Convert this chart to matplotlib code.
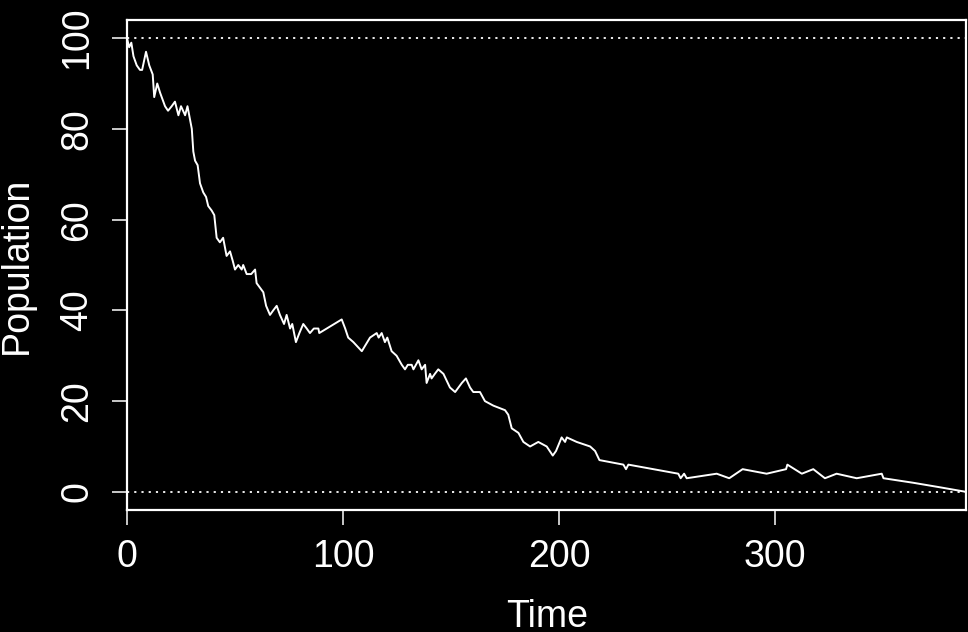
import matplotlib
matplotlib.use('Agg')
import matplotlib.pyplot as plt

# population trajectory
time = [0, 1, 2, 3, 4.5, 6, 7, 8.8, 10.3, 11.9, 12.6, 14, 15.3, 17.6, 19, 20.7,
        22.2, 23.8, 25, 26.9, 28, 28.8, 30, 30.7, 31.5, 32.7, 33.8, 35.3, 36.6,
        37.6, 39.2, 40.4, 41.5, 43, 44.5, 46.1, 47.7, 48.9, 50, 51.5, 53.1, 53.8,
        55.4, 57.5, 59.3, 60, 63.1, 64.4, 66.2, 67.7, 69.3, 70.8, 72.7, 73.9,
        75.5, 76.5, 78.2, 79.8, 81.6, 83.2, 84.7, 86.5, 88.6, 89, 99.4, 101,
        102.4, 104.8, 108.7, 112.5, 115.6, 116.5, 117.9, 119.4, 120.5, 122.5,
        124.8, 127.2, 128.7, 130, 131.8, 132.6, 134.9, 136.4, 138, 138.7, 140.3,
        141, 142.5, 144.1, 146.5, 149.5, 151.9, 155, 156.9, 158.8, 160.3, 163.4,
        165.7, 169.6, 175, 176.5, 178.1, 181.2, 183.5, 186.6, 190.4, 194.3,
        197.1, 198.6, 201.2, 202.8, 203.6, 208.2, 214.4, 216.7, 218.7, 229.8,
        231, 232.1, 255.2, 256.3, 257.9, 259.1, 273, 278.8, 285, 296.1, 305.1,
        305.7, 312.4, 317.7, 323.1, 328.5, 337.8, 349.4, 350.2, 364, 376.4, 388.4]
population = [100, 98, 99, 96, 94, 93, 93, 97, 94, 92, 87, 90, 88, 85, 84, 85,
              86, 83, 85, 83, 85, 83, 80, 75, 73, 72, 68, 66, 65,
              63, 62, 61, 56, 55, 56, 52, 53, 51, 49, 50, 49, 50,
              48, 48, 49, 46, 44, 41, 39, 40, 41, 39, 37, 39,
              36, 37, 33, 35, 37, 36, 35, 36, 36, 35, 38, 36,
              34, 33, 31, 34, 35, 34, 35, 33, 34, 31,
              30, 28, 27, 28, 28, 27, 29, 27, 28, 24, 26,
              25, 26, 27, 26, 23, 22, 24, 25, 23, 22, 22,
              20, 19, 18, 17, 14, 13, 11, 10, 11, 10,
              8, 9, 12, 11, 12, 11, 10, 9, 7, 6,
              5, 6, 4, 3, 4, 3, 4, 3, 5, 4, 5,
              6, 4, 5, 3, 4, 3, 4, 3, 2, 1, 0]
y_ticks = [0, 20, 40, 60, 80, 100]
x_ticks = [0, 100, 200, 300]

plt.rcParams['font.family'] = ['Liberation Sans', 'DejaVu Sans']
fs = 27

fig = plt.figure(figsize=(9.68, 6.32), dpi=100, facecolor='black')
ax = fig.add_axes([127 / 968, 1 - 510 / 632, 839 / 968, 490 / 632])
ax.set_facecolor('black')

ax.plot(time, population, color='white', lw=1.4)
ax.axhline(0, color='white', lw=1.3, linestyle=(0, (1.2, 2.8)))
ax.axhline(100, color='white', lw=1.3, linestyle=(0, (1.2, 2.8)))

ax.set_xlim(0, max(time))
ax.set_ylim(-4, 104)
ax.set_xticks(x_ticks)
ax.set_yticks(y_ticks)
ax.set_xticklabels([str(v) for v in x_ticks], fontsize=fs, color='white')
ax.set_yticklabels([str(v) for v in y_ticks], fontsize=fs, color='white',
                   rotation=90, va='center')
ax.tick_params(axis='x', colors='white', length=11, width=1.1, pad=10)
ax.tick_params(axis='y', colors='white', length=11, width=1.1, pad=12)
for s in ax.spines.values():
    s.set_color('white')
    s.set_linewidth(1.6)

fig.text(17 / 968, 1 - 265 / 632, 'Population', rotation=90, ha='center',
         va='center', fontsize=fs, color='white')
fig.text(547 / 968, 1 - 617 / 632, 'Time', ha='center', va='center',
         fontsize=fs, color='white')

fig.savefig('out.png', dpi=100, facecolor='black')
